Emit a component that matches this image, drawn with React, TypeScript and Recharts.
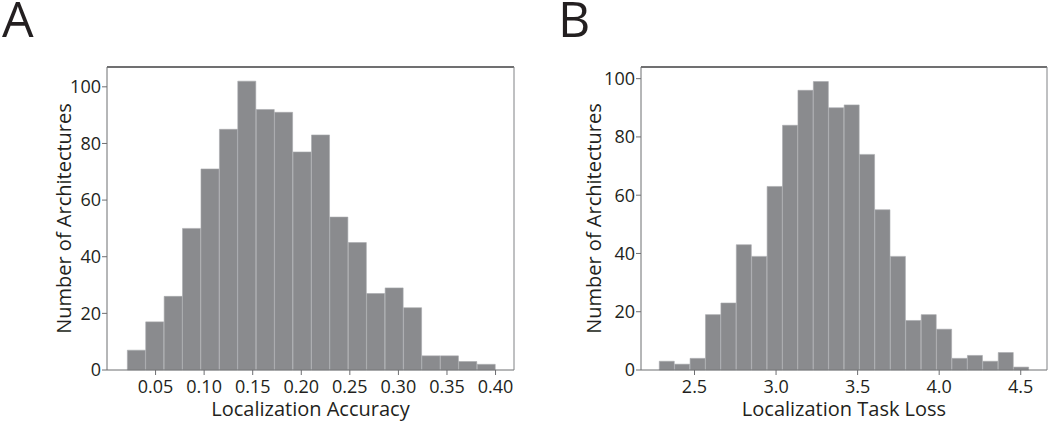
import { BarChart, Bar, XAxis, YAxis } from 'recharts';

// panel A: localization accuracy histogram (bin centres + counts)
const accBins = [
	0.0304, 0.0493, 0.0683, 0.0872, 0.1062, 0.1252, 0.1441, 0.1631, 0.182, 0.201,
	0.22, 0.2389, 0.2579, 0.2768, 0.2958, 0.3148, 0.3337, 0.3527, 0.3716, 0.3906,
];
const accCounts = [7, 17, 26, 50, 71, 85, 102, 92, 91, 77, 83, 54, 45, 27, 29, 22, 5, 5, 3, 2];
const accTicks = [0.05, 0.1, 0.15, 0.2, 0.25, 0.3, 0.35, 0.4];

// panel B: localization task loss histogram
const lossBins = [
	2.3312, 2.4257, 2.5202, 2.6146, 2.7091, 2.8035, 2.898, 2.9925, 3.0869, 3.1814,
	3.2758, 3.3703, 3.4648, 3.5592, 3.6537, 3.7481, 3.8426, 3.9371, 4.0315, 4.126,
	4.2204, 4.3149, 4.4094, 4.5038,
];
const lossCounts = [3, 2, 4, 19, 23, 43, 39, 63, 84, 96, 99, 90, 91, 74, 55, 39, 17, 19, 14, 4, 5, 3, 6, 1];
const lossTicks = [2.5, 3.0, 3.5, 4.0, 4.5];

const countTicks = [0, 20, 40, 60, 80, 100];

const accData = accBins.map((x, i) => ({ x, count: accCounts[i] }));
const lossData = lossBins.map((x, i) => ({ x, count: lossCounts[i] }));

const FONT = '"Open Sans", sans-serif';
const INK = '#231f20';
const AXIS = '#6d6e71';

const tickStyle = { fontSize: 18, fill: INK, fontFamily: FONT };

type HistProps = {
	data: { x: number; count: number }[];
	xDomain: [number, number];
	yMax: number;
	xTicks: number[];
	xFormat: (v: number) => string;
	xLabel: string;
	marginLeft: number;
	marginRight: number;
	labelOffset: number;
	width: number;
};

const Histogram = ({
	data,
	xDomain,
	yMax,
	xTicks,
	xFormat,
	xLabel,
	marginLeft,
	marginRight,
	labelOffset,
	width,
}: HistProps) => {
	return (
		<BarChart
			width={width}
			height={429}
			data={data}
			barCategoryGap={0}
			barGap={0}
			margin={{ top: 66, right: marginRight, left: marginLeft, bottom: 0 }}
		>
			<XAxis
				dataKey='x'
				type='number'
				domain={xDomain}
				ticks={xTicks}
				tickFormatter={xFormat}
				interval={0}
				height={59}
				stroke={AXIS}
				tickSize={5}
				tickMargin={5}
				tick={tickStyle}
				label={{
					value: xLabel,
					position: 'insideBottom',
					offset: 13,
					style: { fontSize: 20, fill: INK, fontFamily: FONT },
				}}
			/>
			{/* top and right frame lines */}
			<XAxis
				xAxisId='top'
				orientation='top'
				type='number'
				domain={xDomain}
				height={1}
				tick={false}
				tickLine={false}
				stroke='#414042'
				strokeWidth={1.5}
			/>
			<YAxis
				type='number'
				domain={[0, yMax]}
				ticks={countTicks}
				interval={0}
				width={60}
				stroke={AXIS}
				tickSize={5}
				tickMargin={1}
				tick={tickStyle}
				label={{
					value: 'Number of Architectures',
					angle: -90,
					position: 'insideLeft',
					offset: labelOffset,
					style: { textAnchor: 'middle', fontSize: 20, fill: INK, fontFamily: FONT },
				}}
			/>
			<YAxis
				yAxisId='right'
				orientation='right'
				type='number'
				domain={[0, yMax]}
				width={1}
				tick={false}
				tickLine={false}
				stroke='#808285'
			/>
			<Bar
				dataKey='count'
				fill='#8a8b8e'
				stroke='#a7a9ac'
				strokeWidth={0.6}
				isAnimationActive={false}
			/>
		</BarChart>
	);
};

const panelLetter = (left: number) => ({
	position: 'absolute' as const,
	left,
	top: 0,
	fontFamily: FONT,
	fontSize: 50,
	lineHeight: '36px',
	color: INK,
});

const App = () => {
	return (
		<div style={{ position: 'absolute', left: 0, top: 0, width: 1050, height: 429, background: '#fff' }}>
			<div style={{ position: 'absolute', left: 0, top: 0 }}>
				<Histogram
					data={accData}
					xDomain={[0, 0.419]}
					yMax={107}
					xTicks={accTicks}
					xFormat={(v) => v.toFixed(2)}
					xLabel='Localization Accuracy'
					marginLeft={47}
					marginRight={15}
					labelOffset={17}
					width={530}
				/>
			</div>
			<div style={{ position: 'absolute', left: 530, top: 0 }}>
				<Histogram
					data={lossData}
					xDomain={[2.172, 4.661]}
					yMax={104}
					xTicks={lossTicks}
					xFormat={(v) => v.toFixed(1)}
					xLabel='Localization Task Loss'
					marginLeft={51}
					marginRight={2}
					labelOffset={13}
					width={520}
				/>
			</div>
			<div style={panelLetter(2)}>A</div>
			<div style={panelLetter(558)}>B</div>
		</div>
	);
};

export default App;
